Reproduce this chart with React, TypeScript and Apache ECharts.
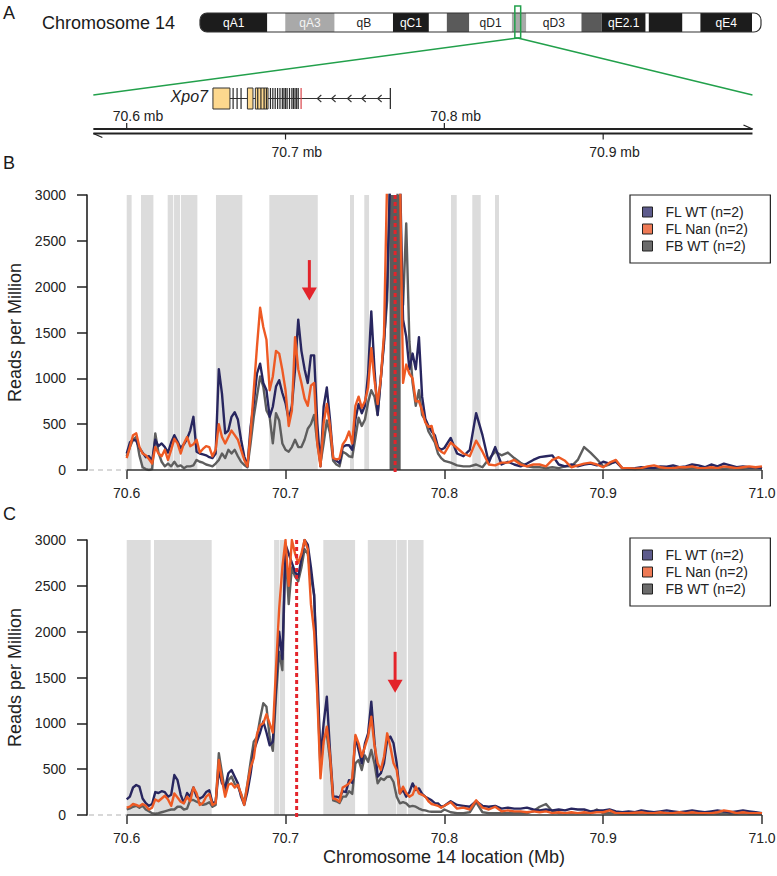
import React, { useEffect, useRef } from "react";
import * as echarts from "echarts";

const FONT = "'Liberation Sans', Arial, Helvetica, sans-serif";

// ---------- genomic positions (Mb) sampled along the window ----------
const POSITIONS: number[] = [];
for (let i = 0; i <= 100; i++) POSITIONS.push(+(70.6 + i * 0.002).toFixed(3));
for (let i = 1; i <= 50; i++) POSITIONS.push(+(70.8 + i * 0.004).toFixed(3));

const X_MIN = 70.575;
const X_MAX = 71.0;
const X_TICKS = [70.6, 70.7, 70.8, 70.9, 71.0];
const Y_MAX = 3000;
const Y_STEP = 500;

const SERIES_NAMES = ["FL WT (n=2)", "FL Nan (n=2)", "FB WT (n=2)"];
const LINE_COLORS = ["#28265f", "#ee5a24", "#5e5e5e"];
const LEGEND_FILLS = ["#5d5b8c", "#ee7a55", "#6b6b6b"];

// ---------- panel B (reads per million) ----------
const B_FL_WT = [
  180, 300, 330, 320, 240, 190, 140, 150, 100, 330,
  260, 290, 250, 190, 300, 380, 310, 240, 280, 340,
  430, 580, 200, 180, 170, 160, 140, 130, 180, 1100,
  830, 400, 430, 580, 630, 550, 330, 150, 40, 470,
  730, 1050, 1160, 950, 870, 580, 690, 910, 980, 840,
  730, 550, 700, 1100, 1640, 1300, 1100, 950, 1250, 1250,
  509, 40, 690, 900, 550, 130, 100, 75, 250, 270,
  270, 220, 550, 720, 620, 700, 1050, 1730, 1100, 600,
  1000, 1380, 2000, 3300, 3300, 3300, 3300, 1640, 1455, 1100,
  1270, 1100, 1450, 800, 560, 480, 420, 380, 250, 220,
  240,
  350, 180, 150, 220, 620, 380, 80, 250, 60, 90,
  60, 40, 70, 110, 140, 150, 160, 60, 40, 60,
  40, 60, 70, 50, 90, 70, 90, 20, 15, 20,
  30, 25, 20, 40, 35, 50, 30, 40, 60, 50,
  30, 60, 40, 70, 50, 30, 40, 30, 30, 20,
];
const B_FL_NAN = [
  130, 250, 380, 400, 250, 180, 160, 120, 70, 250,
  180, 150, 220, 110, 220, 340, 290, 180, 290, 360,
  260, 280, 330, 190, 230, 260, 250, 150, 220, 500,
  360, 290, 360, 430, 380, 330, 220, 110, 40, 400,
  870, 1340, 1770, 1560, 1420, 870, 1020, 1300, 1270, 1090,
  870, 480, 650, 1450, 1100, 950, 780, 700, 920, 950,
  291, 40, 510, 720, 480, 130, 115, 125, 280, 330,
  420, 290, 700, 800, 680, 750, 900, 1330, 980, 720,
  1000, 1480, 3200, 3300, 3300, 3300, 3300, 950, 1150, 1050,
  1000, 750, 750, 650, 520, 470, 480, 330, 230, 200,
  180,
  300, 240, 180, 150, 320, 200, 60, 50, 80, 80,
  110, 60, 40, 60, 60, 40, 110, 140, 100, 30,
  50, 70, 80, 60, 30, 80, 110, 20, 20, 15,
  20, 40, 50, 30, 20, 20, 30, 30, 40, 20,
  20, 30, 20, 40, 30, 20, 30, 40, 30, 40,
];
const B_FB_WT = [
  150, 250, 330, 360, 160, 30, 10, 0, 10, 400,
  190, 90, 40, 70, 40, 90, 40, 50, 20, 40,
  40, 50, 110, 90, 80, 60, 50, 40, 70, 110,
  180, 130, 220, 180, 220, 150, 90, 55, 30, 290,
  580, 800, 1020, 910, 650, 580, 290, 620, 540, 290,
  220, 200, 250, 330, 250, 250, 330, 450, 500, 600,
  291, 70, 290, 540, 400, 100, 60, 40, 200, 180,
  150, 140, 350, 570, 480, 550, 740, 870, 800, 600,
  1000, 1420, 1850, 3300, 3300, 3300, 2200, 1800, 2690, 1400,
  950, 700, 870, 600, 540, 420, 360, 300, 180, 130,
  100,
  80, 50, 40, 40, 60, 30, 120, 200, 160, 190,
  130, 80, 40, 30, 30, 20, 30, 20, 40, 40,
  110, 250, 190, 120, 40, 60, 100, 20, 15, 10,
  15, 20, 20, 15, 20, 25, 20, 15, 20, 20,
  25, 20, 20, 15, 20, 20, 15, 20, 25, 20,
];

// ---------- panel C ----------
const C_FL_WT = [
  170, 200, 300, 327, 310, 180, 130, 100, 120, 250,
  240, 260, 250, 200, 220, 436, 380, 220, 130, 240,
  200, 300, 200, 180, 200, 250, 270, 130, 140, 491,
  345, 300, 455, 491, 418, 345, 200, 110, 250, 450,
  700, 800, 900, 1020, 900, 760, 800, 1400, 2000, 1700,
  2950, 2850, 2750, 2650, 2600, 2800, 3000, 2950, 2700, 2400,
  1600, 600, 1000, 1290, 700, 200, 200, 190, 260, 250,
  380, 350, 855, 709, 564, 782, 891, 1236, 800, 418,
  455, 564, 818, 855, 782, 564, 236, 273, 200, 250,
  345, 273, 290, 230, 200, 180, 160, 130, 127, 90,
  100,
  150, 110, 100, 90, 150, 100, 90, 100, 70, 80,
  70, 70, 80, 60, 50, 60, 50, 60, 50, 70,
  60, 60, 40, 50, 50, 60, 40, 30, 40, 30,
  50, 40, 30, 40, 50, 40, 30, 40, 50, 40,
  30, 40, 50, 40, 30, 40, 50, 40, 30, 20,
];
const C_FL_NAN = [
  80, 91, 120, 110, 95, 120, 100, 60, 80, 170,
  150, 180, 210, 170, 100, 236, 190, 145, 127, 200,
  150, 300, 236, 110, 130, 200, 230, 110, 130, 600,
  382, 200, 330, 345, 300, 330, 230, 110, 330, 520,
  620, 880, 980, 1000, 1100, 1000, 900, 1600, 2250, 2700,
  3000, 2500, 3000, 2850, 2750, 2850, 3000, 2900, 2300, 2000,
  1300, 400, 800, 964, 650, 180, 170, 145, 300, 320,
  345, 400, 873, 782, 636, 745, 855, 1073, 760, 564,
  491, 636, 891, 745, 564, 491, 236, 309, 240, 200,
  220, 309, 236, 220, 200, 150, 120, 110, 100, 80,
  100,
  140, 70, 80, 60, 160, 80, 60, 90, 40, 50,
  40, 40, 30, 40, 30, 40, 20, 30, 20, 30,
  20, 30, 20, 30, 30, 50, 20, 20, 20, 25,
  30, 20, 20, 30, 20, 20, 30, 20, 30, 20,
  20, 20, 30, 50, 40, 20, 30, 20, 20, 20,
];
const C_FB_WT = [
  60, 73, 90, 100, 80, 100, 60, 40, 20, 15,
  20, 30, 40, 50, 60, 60, 90, 90, 60, 70,
  164, 164, 145, 130, 110, 120, 140, 90, 110, 673,
  455, 240, 380, 420, 340, 310, 230, 130, 340, 580,
  800, 850, 1050, 1220, 1180, 850, 700, 1300, 1780, 1580,
  2900, 2300, 2700, 2600, 2550, 2700, 2900, 2850, 2600, 2400,
  1400, 500, 850, 880, 600, 160, 150, 130, 200, 200,
  260, 230, 564, 600, 491, 650, 580, 709, 560, 345,
  400, 382, 418, 420, 360, 200, 127, 140, 127, 91,
  100, 91, 70, 55, 50, 40, 36, 36, 36, 36,
  60,
  30, 20, 20, 30, 140, 30, 20, 20, 20, 20,
  20, 20, 20, 40, 90, 120, 40, 20, 20, 20,
  20, 20, 20, 60, 20, 20, 20, 15, 15, 15,
  20, 15, 15, 20, 15, 15, 20, 15, 15, 15,
  15, 20, 15, 20, 15, 15, 20, 15, 15, 15,
];

// ---------- shaded regions / markers ----------
const BANDS_B = [
  [70.6, 70.6031], [70.609, 70.6168], [70.6258, 70.6293], [70.6298, 70.6336],
  [70.6342, 70.6445], [70.6562, 70.6728], [70.6898, 70.7203], [70.7406, 70.7431],
  [70.7496, 70.7526], [70.8042, 70.8078], [70.8176, 70.8229], [70.8319, 70.8344],
];
const DARK_B = [[70.7655, 70.7725]];
const BANDS_C = [
  [70.6, 70.6151], [70.6172, 70.6535], [70.6928, 70.6961], [70.6965, 70.6997],
  [70.7238, 70.7438], [70.7518, 70.7696], [70.77, 70.7763], [70.7771, 70.7869],
];
const VIEWPOINT_B = 70.769;
const VIEWPOINT_C = 70.707;
const ARROW_B = [70.715, 2290, 1850];
const ARROW_C = [70.769, 1780, 1335];

// ---------- chromosome 14 ideogram (Mb) ----------
const CHR_LENGTH = 125;
const CHR_BAND_NAMES = ["qA1", "", "qA3", "qB", "qC1", "", "", "qD1", "", "qD3", "", "qE2.1", "", "", "", "qE4", ""];
const CHR_BAND_STARTS = [0, 15, 19, 30, 43, 51, 55, 60, 69.5, 72.7, 85, 89.5, 99.3, 100, 107.5, 111.5, 123];
const CHR_BAND_ENDS = [15, 19, 30, 43, 51, 55, 60, 69.5, 72.7, 85, 89.5, 99.3, 100, 107.5, 111.5, 123, 125];
const CHR_BAND_STAINS = ["gpos100", "gneg", "gpos50", "gneg", "gpos100", "gneg", "gpos75", "gneg", "gpos50", "gneg", "gpos75", "gpos100", "gneg", "gpos100", "gneg", "gpos100", "gneg"];
const ZOOM_REGION = [70.15, 71.45];

// ---------- Xpo7 gene model (Mb) ----------
const GENE_NAME = "Xpo7";
const GENE_SPAN = [70.6543, 70.766];
const GENE_BOXES = [[70.6543, 70.665], [70.676, 70.6795], [70.681, 70.689]];
const GENE_EXON_LINES = [70.667, 70.6695, 70.672, 70.6825, 70.6845, 70.6865, 70.688, 70.6905, 70.692, 70.6935, 70.695, 70.6965, 70.698, 70.699, 70.7, 70.701, 70.7025, 70.704, 70.705, 70.706, 70.707, 70.708];
const GENE_MARK = 70.7098;
const GENE_STRAND_ARROWS = [70.72, 70.729, 70.739, 70.748, 70.758];
const RULER_SPAN = [70.579, 70.994];
const RULER_TICKS_UP = [70.6, 70.8];
const RULER_TICKS_DOWN = [70.7, 70.9];

// ---------- style ----------
const RED = "#e3242b";
const GREEN = "#22a04b";
const BAND_GRAY = "#dcdcdc";
const DARK_GRAY = "#5b5b5b";
const AXIS = "#222";
const STAIN_FILL: Record<string, string> = { gpos100: "#1c1c1c", gneg: "#ffffff", gpos50: "#a9a9a9", gpos75: "#5a5a5a" };
const STAIN_TEXT: Record<string, string> = { gpos100: "#ffffff", gneg: "#222222", gpos50: "#f4f4f4", gpos75: "#ffffff" };

// layout (px)
const PLOT_LEFT = 87;
const PLOT_WIDTH = 675;
const PLOT_HEIGHT = 275;
const B_TOP = 195;
const C_TOP = 540;
const GENE_TOP = 88;
const GENE_BOTTOM = 109;
const RULER_Y1 = 129;
const RULER_Y2 = 133.5;

function bandSeries(idx: number, bands: number[][], color: string, z: number) {
  return {
    type: "custom",
    xAxisIndex: idx,
    yAxisIndex: idx,
    silent: true,
    z,
    data: bands.map((b) => [b[0], b[1]]),
    renderItem: (params: any, api: any) => {
      const p0 = api.coord([api.value(0), Y_MAX]);
      const p1 = api.coord([api.value(1), 0]);
      return {
        type: "rect",
        shape: { x: p0[0], y: p0[1], width: p1[0] - p0[0], height: p1[1] - p0[1] },
        style: { fill: color },
      };
    },
  };
}

function lineSeries(idx: number, k: number, vals: number[]) {
  return {
    name: SERIES_NAMES[k],
    type: "line",
    xAxisIndex: idx,
    yAxisIndex: idx,
    data: POSITIONS.map((p, i) => [p, vals[i]]),
    showSymbol: false,
    symbol: "none",
    clip: true,
    silent: true,
    z: 3 + (k === 2 ? 0 : k === 0 ? 0.1 : 0.2),
    lineStyle: { color: LINE_COLORS[k], width: 2.4, join: "round" },
    itemStyle: { color: LINE_COLORS[k] },
  };
}

function axisBaseSeries(idx: number) {
  return {
    type: "custom",
    xAxisIndex: idx,
    yAxisIndex: idx,
    silent: true,
    clip: false,
    z: 6,
    data: [[X_TICKS[0], 0]],
    renderItem: (params: any, api: any) => {
      const a = api.coord([X_MIN, 0]);
      const b = api.coord([X_TICKS[0], 0]);
      const c = api.coord([X_TICKS[X_TICKS.length - 1], 0]);
      return {
        type: "group",
        children: [
          { type: "line", shape: { x1: a[0] + 2, y1: a[1], x2: b[0], y2: b[1] }, style: { stroke: "#cccccc", lineWidth: 1.3, lineDash: [5, 4] } },
          { type: "line", shape: { x1: b[0], y1: b[1], x2: c[0], y2: c[1] }, style: { stroke: "#333", lineWidth: 1.6 } },
        ],
      };
    },
  };
}

function markerSeries(idx: number, viewpoint: number, arrow: number[]) {
  return [
    {
      type: "custom",
      xAxisIndex: idx,
      yAxisIndex: idx,
      silent: true,
      z: 7,
      data: [[viewpoint, 0]],
      renderItem: (params: any, api: any) => {
        const top = api.coord([api.value(0), Y_MAX]);
        const bot = api.coord([api.value(0), 0]);
        return {
          type: "line",
          shape: { x1: top[0], y1: top[1], x2: bot[0], y2: bot[1] + 3 },
          style: { stroke: RED, lineWidth: 3, lineDash: [4, 3] },
        };
      },
    },
    {
      type: "custom",
      xAxisIndex: idx,
      yAxisIndex: idx,
      silent: true,
      z: 7,
      data: [arrow],
      renderItem: (params: any, api: any) => {
        const a = api.coord([api.value(0), api.value(1)]);
        const b = api.coord([api.value(0), api.value(2)]);
        const head = 13;
        const hw = 7.5;
        return {
          type: "group",
          children: [
            { type: "line", shape: { x1: a[0], y1: a[1], x2: b[0], y2: b[1] - head + 1 }, style: { stroke: RED, lineWidth: 3 } },
            { type: "polygon", shape: { points: [[b[0] - hw, b[1] - head], [b[0] + hw, b[1] - head], [b[0], b[1]]] }, style: { fill: RED } },
          ],
        };
      },
    },
  ];
}

function plotXAxis(idx: number, withName: boolean) {
  return {
    type: "value",
    gridIndex: idx,
    min: X_MIN,
    max: X_MAX,
    axisLine: { show: false },
    axisTick: { show: true, customValues: X_TICKS, length: 9, lineStyle: { color: "#333", width: 1.5 } },
    axisLabel: {
      show: true,
      customValues: X_TICKS,
      formatter: (v: number) => v.toFixed(1),
      margin: 16,
      fontSize: 14,
      color: AXIS,
      fontFamily: FONT,
    },
    splitLine: { show: false },
    name: withName ? "Chromosome 14 location (Mb)" : "",
    nameLocation: "middle",
    nameGap: 33,
    nameTextStyle: { fontSize: 18, color: AXIS, fontFamily: FONT, padding: [0, 0, 0, 39] },
  };
}

function plotYAxis(idx: number) {
  return {
    type: "value",
    gridIndex: idx,
    min: 0,
    max: Y_MAX,
    interval: Y_STEP,
    axisLine: { show: true, lineStyle: { color: AXIS, width: 1.6 } },
    axisTick: { show: true, length: 10, lineStyle: { color: AXIS, width: 1.5 } },
    axisLabel: { fontSize: 14, color: AXIS, fontFamily: FONT, margin: 21, formatter: (v: number) => String(v) },
    splitLine: { show: false },
    name: "Reads per Million",
    nameLocation: "middle",
    nameGap: 60,
    nameTextStyle: { fontSize: 18, color: AXIS, fontFamily: FONT },
  };
}

function legendAt(top: number) {
  return {
    orient: "vertical",
    left: 630,
    top,
    padding: [10, 22, 10, 12],
    itemGap: 3,
    itemWidth: 10,
    itemHeight: 10,
    backgroundColor: "#fff",
    borderColor: "#222",
    borderWidth: 1.2,
    borderRadius: 0,
    icon: "rect",
    selectedMode: false,
    textStyle: { fontSize: 14, color: AXIS, fontFamily: FONT, padding: [0, 0, 0, 8] },
    data: SERIES_NAMES.map((n, i) => ({
      name: n,
      icon: "rect",
      itemStyle: { color: LEGEND_FILLS[i], borderColor: "#222", borderWidth: 1 },
    })),
  };
}

const chromosomeSeries = {
  type: "custom",
  xAxisIndex: 3,
  yAxisIndex: 3,
  silent: true,
  z: 2,
  data: CHR_BAND_STARTS.map((s, i) => [s, CHR_BAND_ENDS[i]]),
  renderItem: (params: any, api: any) => {
    const i = params.dataIndex;
    const p0 = api.coord([api.value(0), 1]);
    const p1 = api.coord([api.value(1), 0]);
    const R = 7;
    const last = CHR_BAND_STARTS.length - 1;
    const r = i === 0 ? [R, 0, 0, R] : i === last ? [0, R, R, 0] : 0;
    const stain = CHR_BAND_STAINS[i];
    const children: any[] = [
      {
        type: "rect",
        shape: { x: p0[0], y: p0[1], width: p1[0] - p0[0], height: p1[1] - p0[1], r },
        style: { fill: STAIN_FILL[stain] },
      },
    ];
    if (CHR_BAND_NAMES[i]) {
      children.push({
        type: "text",
        style: {
          text: CHR_BAND_NAMES[i],
          x: (p0[0] + p1[0]) / 2,
          y: (p0[1] + p1[1]) / 2 + 0.5,
          fill: STAIN_TEXT[stain],
          font: `12px ${FONT}`,
          align: "center",
          verticalAlign: "middle",
          textAlign: "center",
          textVerticalAlign: "middle",
        },
      });
    }
    return { type: "group", children };
  },
};

const chromosomeOutline = {
  type: "custom",
  xAxisIndex: 3,
  yAxisIndex: 3,
  silent: true,
  z: 3,
  data: [[0, CHR_LENGTH]],
  renderItem: (params: any, api: any) => {
    const p0 = api.coord([0, 1]);
    const p1 = api.coord([CHR_LENGTH, 0]);
    const z0 = api.coord([ZOOM_REGION[0], 1]);
    const z1 = api.coord([ZOOM_REGION[1], 0]);
    return {
      type: "group",
      children: [
        {
          type: "rect",
          shape: { x: p0[0], y: p0[1], width: p1[0] - p0[0], height: p1[1] - p0[1], r: 7 },
          style: { fill: "none", stroke: "#333", lineWidth: 1.2 },
        },
        {
          type: "rect",
          shape: { x: z0[0], y: z0[1] - 7, width: z1[0] - z0[0], height: z1[1] - z0[1] + 13 },
          style: { fill: "none", stroke: GREEN, lineWidth: 1.5 },
        },
      ],
    };
  },
};

const geneSeries = {
  type: "custom",
  xAxisIndex: 2,
  yAxisIndex: 2,
  silent: true,
  z: 3,
  data: [[GENE_SPAN[0], 0.5]],
  renderItem: (params: any, api: any) => {
    const X = (v: number) => api.coord([v, 0])[0];
    const mid = (GENE_TOP + GENE_BOTTOM) / 2;
    const ch: any[] = [];
    ch.push({ type: "line", shape: { x1: X(GENE_SPAN[0]), y1: mid, x2: X(GENE_SPAN[1]), y2: mid }, style: { stroke: "#333", lineWidth: 1.1 } });
    GENE_STRAND_ARROWS.forEach((a) => {
      const x = X(a);
      ch.push({ type: "polyline", shape: { points: [[x + 4, mid - 3.5], [x, mid], [x + 4, mid + 3.5]] }, style: { stroke: "#333", lineWidth: 1.1, fill: "none" } });
    });
    GENE_BOXES.forEach((b) => {
      ch.push({
        type: "rect",
        shape: { x: X(b[0]), y: GENE_TOP, width: X(b[1]) - X(b[0]), height: GENE_BOTTOM - GENE_TOP },
        style: { fill: "#fdd88e", stroke: "#333", lineWidth: 1 },
      });
    });
    GENE_EXON_LINES.forEach((e) => {
      const x = X(e);
      ch.push({ type: "line", shape: { x1: x, y1: GENE_TOP, x2: x, y2: GENE_BOTTOM }, style: { stroke: "#2a2a2a", lineWidth: 1.2 } });
    });
    const xm = X(GENE_MARK);
    ch.push({ type: "line", shape: { x1: xm, y1: GENE_TOP, x2: xm, y2: GENE_BOTTOM }, style: { stroke: "#d9444a", lineWidth: 1.2 } });
    const xe = X(GENE_SPAN[1]);
    ch.push({ type: "line", shape: { x1: xe, y1: GENE_TOP, x2: xe, y2: GENE_BOTTOM }, style: { stroke: "#333", lineWidth: 1.3 } });
    ch.push({
      type: "text",
      style: {
        text: GENE_NAME, x: X(GENE_SPAN[0]) - 5, y: mid - 2, fill: "#222",
        font: `italic 16px ${FONT}`, align: "right", verticalAlign: "middle", textAlign: "right", textVerticalAlign: "middle",
      },
    });
    const r0 = X(RULER_SPAN[0]);
    const r1 = X(RULER_SPAN[1]);
    const st = { stroke: "#222", lineWidth: 2 };
    ch.push({ type: "line", shape: { x1: r0, y1: RULER_Y1, x2: r1, y2: RULER_Y1 }, style: st });
    ch.push({ type: "line", shape: { x1: r0, y1: RULER_Y2, x2: r1, y2: RULER_Y2 }, style: st });
    ch.push({ type: "line", shape: { x1: r1, y1: RULER_Y1, x2: r1 - 9, y2: RULER_Y1 - 4 }, style: { stroke: "#222", lineWidth: 1.3 } });
    ch.push({ type: "line", shape: { x1: r0, y1: RULER_Y2, x2: r0 + 9, y2: RULER_Y2 + 4 }, style: { stroke: "#222", lineWidth: 1.3 } });
    RULER_TICKS_UP.forEach((t) => {
      const x = X(t);
      ch.push({ type: "line", shape: { x1: x, y1: RULER_Y1, x2: x, y2: RULER_Y1 - 6 }, style: { stroke: "#222", lineWidth: 1.2 } });
      ch.push({
        type: "text",
        style: { text: `${t.toFixed(1)} mb`, x: x - 14, y: 116, fill: "#222", font: `14px ${FONT}`, align: "left", verticalAlign: "middle", textAlign: "left", textVerticalAlign: "middle" },
      });
    });
    RULER_TICKS_DOWN.forEach((t) => {
      const x = X(t);
      ch.push({ type: "line", shape: { x1: x, y1: RULER_Y2, x2: x, y2: RULER_Y2 + 6 }, style: { stroke: "#222", lineWidth: 1.2 } });
      ch.push({
        type: "text",
        style: { text: `${t.toFixed(1)} mb`, x: x - 14, y: 152, fill: "#222", font: `14px ${FONT}`, align: "left", verticalAlign: "middle", textAlign: "left", textVerticalAlign: "middle" },
      });
    });
    return { type: "group", children: ch };
  },
};

const hiddenAxis = (idx: number, min: number, max: number) => ({ type: "value", gridIndex: idx, min, max, show: false });

const gridAt = (left: number, top: number, width: number, height: number) => ({
  left, top, width, height, containLabel: false, outerBoundsMode: "none",
});

const option: any = {
  animation: false,
  backgroundColor: "#ffffff",
  textStyle: { fontFamily: FONT },
  grid: [
    gridAt(PLOT_LEFT, B_TOP, PLOT_WIDTH, PLOT_HEIGHT),
    gridAt(PLOT_LEFT, C_TOP, PLOT_WIDTH, PLOT_HEIGHT),
    gridAt(PLOT_LEFT, 80, PLOT_WIDTH, 80),
    gridAt(200, 13, 561, 19),
  ],
  xAxis: [plotXAxis(0, false), plotXAxis(1, true), hiddenAxis(2, X_MIN, X_MAX), hiddenAxis(3, 0, CHR_LENGTH)],
  yAxis: [plotYAxis(0), plotYAxis(1), hiddenAxis(2, 0, 1), hiddenAxis(3, 0, 1)],
  legend: [legendAt(195), legendAt(538)],
  series: [
    bandSeries(0, BANDS_B, BAND_GRAY, 1),
    bandSeries(0, DARK_B, DARK_GRAY, 2),
    lineSeries(0, 2, B_FB_WT),
    lineSeries(0, 0, B_FL_WT),
    lineSeries(0, 1, B_FL_NAN),
    axisBaseSeries(0),
    ...markerSeries(0, VIEWPOINT_B, ARROW_B),
    bandSeries(1, BANDS_C, BAND_GRAY, 1),
    lineSeries(1, 2, C_FB_WT),
    lineSeries(1, 0, C_FL_WT),
    lineSeries(1, 1, C_FL_NAN),
    axisBaseSeries(1),
    ...markerSeries(1, VIEWPOINT_C, ARROW_C),
    chromosomeSeries,
    chromosomeOutline,
    geneSeries,
  ],
};

export default function App() {
  const ref = useRef<HTMLDivElement>(null);
  useEffect(() => {
    if (!ref.current) return;
    const chart = echarts.init(ref.current, null, { renderer: "svg" });
    chart.setOption(option);
    const zc = chart.convertToPixel({ gridIndex: 3 }, [(ZOOM_REGION[0] + ZOOM_REGION[1]) / 2, 0]) as number[];
    const gl = chart.convertToPixel({ gridIndex: 2 }, [RULER_SPAN[0], 0]) as number[];
    const gr = chart.convertToPixel({ gridIndex: 2 }, [RULER_SPAN[1], 0]) as number[];
    const txt = (text: string, x: number, y: number, size: number) => ({
      type: "text",
      x,
      y,
      style: { text, font: `${size}px ${FONT}`, fill: "#1a1a1a", textVerticalAlign: "middle", verticalAlign: "middle" },
      silent: true,
    });
    chart.setOption({
      graphic: {
        elements: [
          txt("A", 3, 13, 18),
          txt("Chromosome 14", 42, 23, 18),
          txt("B", 3, 163, 18),
          txt("C", 3, 514, 18),
          { type: "line", shape: { x1: zc[0], y1: zc[1] + 6, x2: gl[0], y2: 95 }, style: { stroke: GREEN, lineWidth: 1.5 }, silent: true },
          { type: "line", shape: { x1: zc[0], y1: zc[1] + 6, x2: gr[0], y2: 95 }, style: { stroke: GREEN, lineWidth: 1.5 }, silent: true },
        ],
      },
    });
    return () => chart.dispose();
  }, []);
  return <div ref={ref} style={{ position: "absolute", left: 0, top: 0, width: 777, height: 876 }} />;
}
